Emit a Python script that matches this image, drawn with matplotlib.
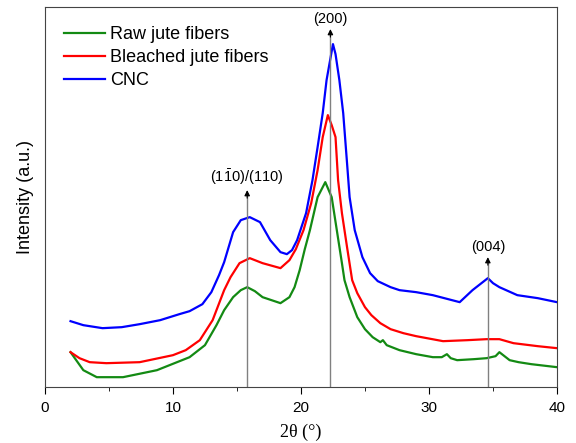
import matplotlib
matplotlib.use('Agg')
import matplotlib.pyplot as pyplot
from matplotlib.ticker import MultipleLocator

pyplot.rcParams['font.family'] = ['Liberation Sans', 'DejaVu Sans']
pyplot.rcParams['mathtext.fontset'] = 'custom'
pyplot.rcParams['mathtext.rm'] = 'Liberation Sans'

# XRD patterns (intensity in arbitrary units)
raw_x = [2.0, 3.0, 4.05, 6.1, 8.75, 11.3, 12.5, 13.4, 14.0, 14.7, 15.3, 15.8, 16.4, 17.0,
         18.4, 19.1, 19.5, 19.9, 20.3, 20.7, 21.3, 21.9, 22.4, 22.8, 23.2, 23.4, 23.8,
         24.4, 25.0, 25.6, 26.2, 26.4, 26.7, 27.7, 29.0, 30.3, 31.0, 31.4, 31.7, 32.2,
         33.5, 34.5, 35.2, 35.5, 36.3, 37.0, 38.0, 40.0]
raw_y = [35, 17, 10, 10, 17, 30, 42, 62, 77, 90, 97, 100, 96, 90,
         84, 90, 100, 117, 138, 157, 190, 205, 190, 157, 124, 107, 90,
         70, 58, 50, 45, 47, 42, 37, 33, 30, 30, 33, 29, 27,
         28, 29, 31, 35, 27, 25, 23, 20]

bleached_x = [2.0, 2.7, 3.5, 4.8, 7.4, 10.0, 11.0, 12.1, 13.1, 14.0, 14.5, 15.2, 16.0, 17.0,
              18.4, 19.1, 19.6, 20.2, 20.8, 21.3, 21.7, 22.1, 22.4, 22.7, 22.9, 23.2, 23.6,
              24.0, 24.4, 25.0, 25.5, 26.2, 27.0, 28.0, 29.0, 31.1, 33.0, 34.5, 35.5, 36.6,
              38.5, 40.0]
bleached_y = [35, 29, 25, 24, 25, 32, 37, 47, 67, 97, 110, 124, 129, 124,
              119, 127, 138, 157, 184, 217, 250, 272, 262, 250, 207, 174, 140,
              107, 94, 80, 72, 64, 58, 54, 51, 46, 47, 48, 48, 44,
              41, 39]

cnc_x = [2.0, 3.0, 4.5, 6.0, 7.4, 9.0, 10.5, 11.3, 12.3, 13.0, 13.6, 14.0, 14.7, 15.3,
         16.0, 16.8, 17.6, 18.4, 18.9, 19.3, 19.7, 20.4, 20.9, 21.3, 21.7, 22.0, 22.5,
         22.7, 23.0, 23.3, 23.6, 23.8, 24.2, 24.8, 25.4, 26.0, 27.0, 27.7, 29.0, 30.3,
         31.5, 32.4, 33.4, 34.0, 34.6, 35.0, 35.5, 36.9, 38.5, 40.0]
cnc_y = [66, 62, 59, 60, 63, 67, 73, 76, 83, 95, 112, 125, 155, 167,
         170, 165, 147, 135, 133, 137, 147, 174, 207, 240, 274, 307, 343,
         333, 307, 274, 224, 190, 157, 130, 114, 106, 100, 97, 95, 92,
         88, 85, 97, 103, 109, 104, 100, 92, 89, 85]

# reflections: position, arrow tip, label
peak_pos = [15.8, 22.3, 34.6]
peak_tip = [197, 358, 130]
peak_labels = [r'(1$\mathrm{\bar{1}}$0)/(110)', '(200)', '(004)']

fig = pyplot.figure(figsize=(5.76, 4.43), dpi=100)
ax = fig.add_axes([0.078, 0.126, 0.889, 0.858])

ax.plot(raw_x, raw_y, color='#138a13', lw=1.6, label='Raw jute fibers')
ax.plot(bleached_x, bleached_y, color='#ff0000', lw=1.6, label='Bleached jute fibers')
ax.plot(cnc_x, cnc_y, color='#0000ff', lw=1.6, label='CNC')

for px, tip, lab in zip(peak_pos, peak_tip, peak_labels):
    ax.vlines(px, 0, tip - 4, color='#808080', lw=1.0)
    ax.annotate('', xy=(px, tip), xytext=(px, tip - 8),
                arrowprops=dict(arrowstyle='-|>', color='black', lw=0.8,
                                mutation_scale=8, shrinkA=0, shrinkB=0))
    ax.text(px, tip + 3, lab, ha='center', va='bottom', fontsize=10.5)

ax.set_xlim(0, 40)
ax.set_ylim(0, 380)
ax.xaxis.set_major_locator(MultipleLocator(10))
ax.xaxis.set_minor_locator(MultipleLocator(5))
ax.tick_params(axis='x', which='major', direction='out', length=5, labelsize=11, pad=5)
ax.tick_params(axis='x', which='minor', direction='out', length=3)
ax.set_yticks([])
ax.set_xlabel('2θ (°)', family='Liberation Serif', fontsize=13, labelpad=6)
ax.set_ylabel('Intensity (a.u.)', fontsize=13, labelpad=8)
for s in ax.spines.values():
    s.set_color('#444444')

ax.legend(loc='upper left', frameon=False, fontsize=13, handlelength=2.3,
          handletextpad=0.28, labelspacing=0.34, borderaxespad=0.65)

pyplot.savefig('out.png', dpi=100)
